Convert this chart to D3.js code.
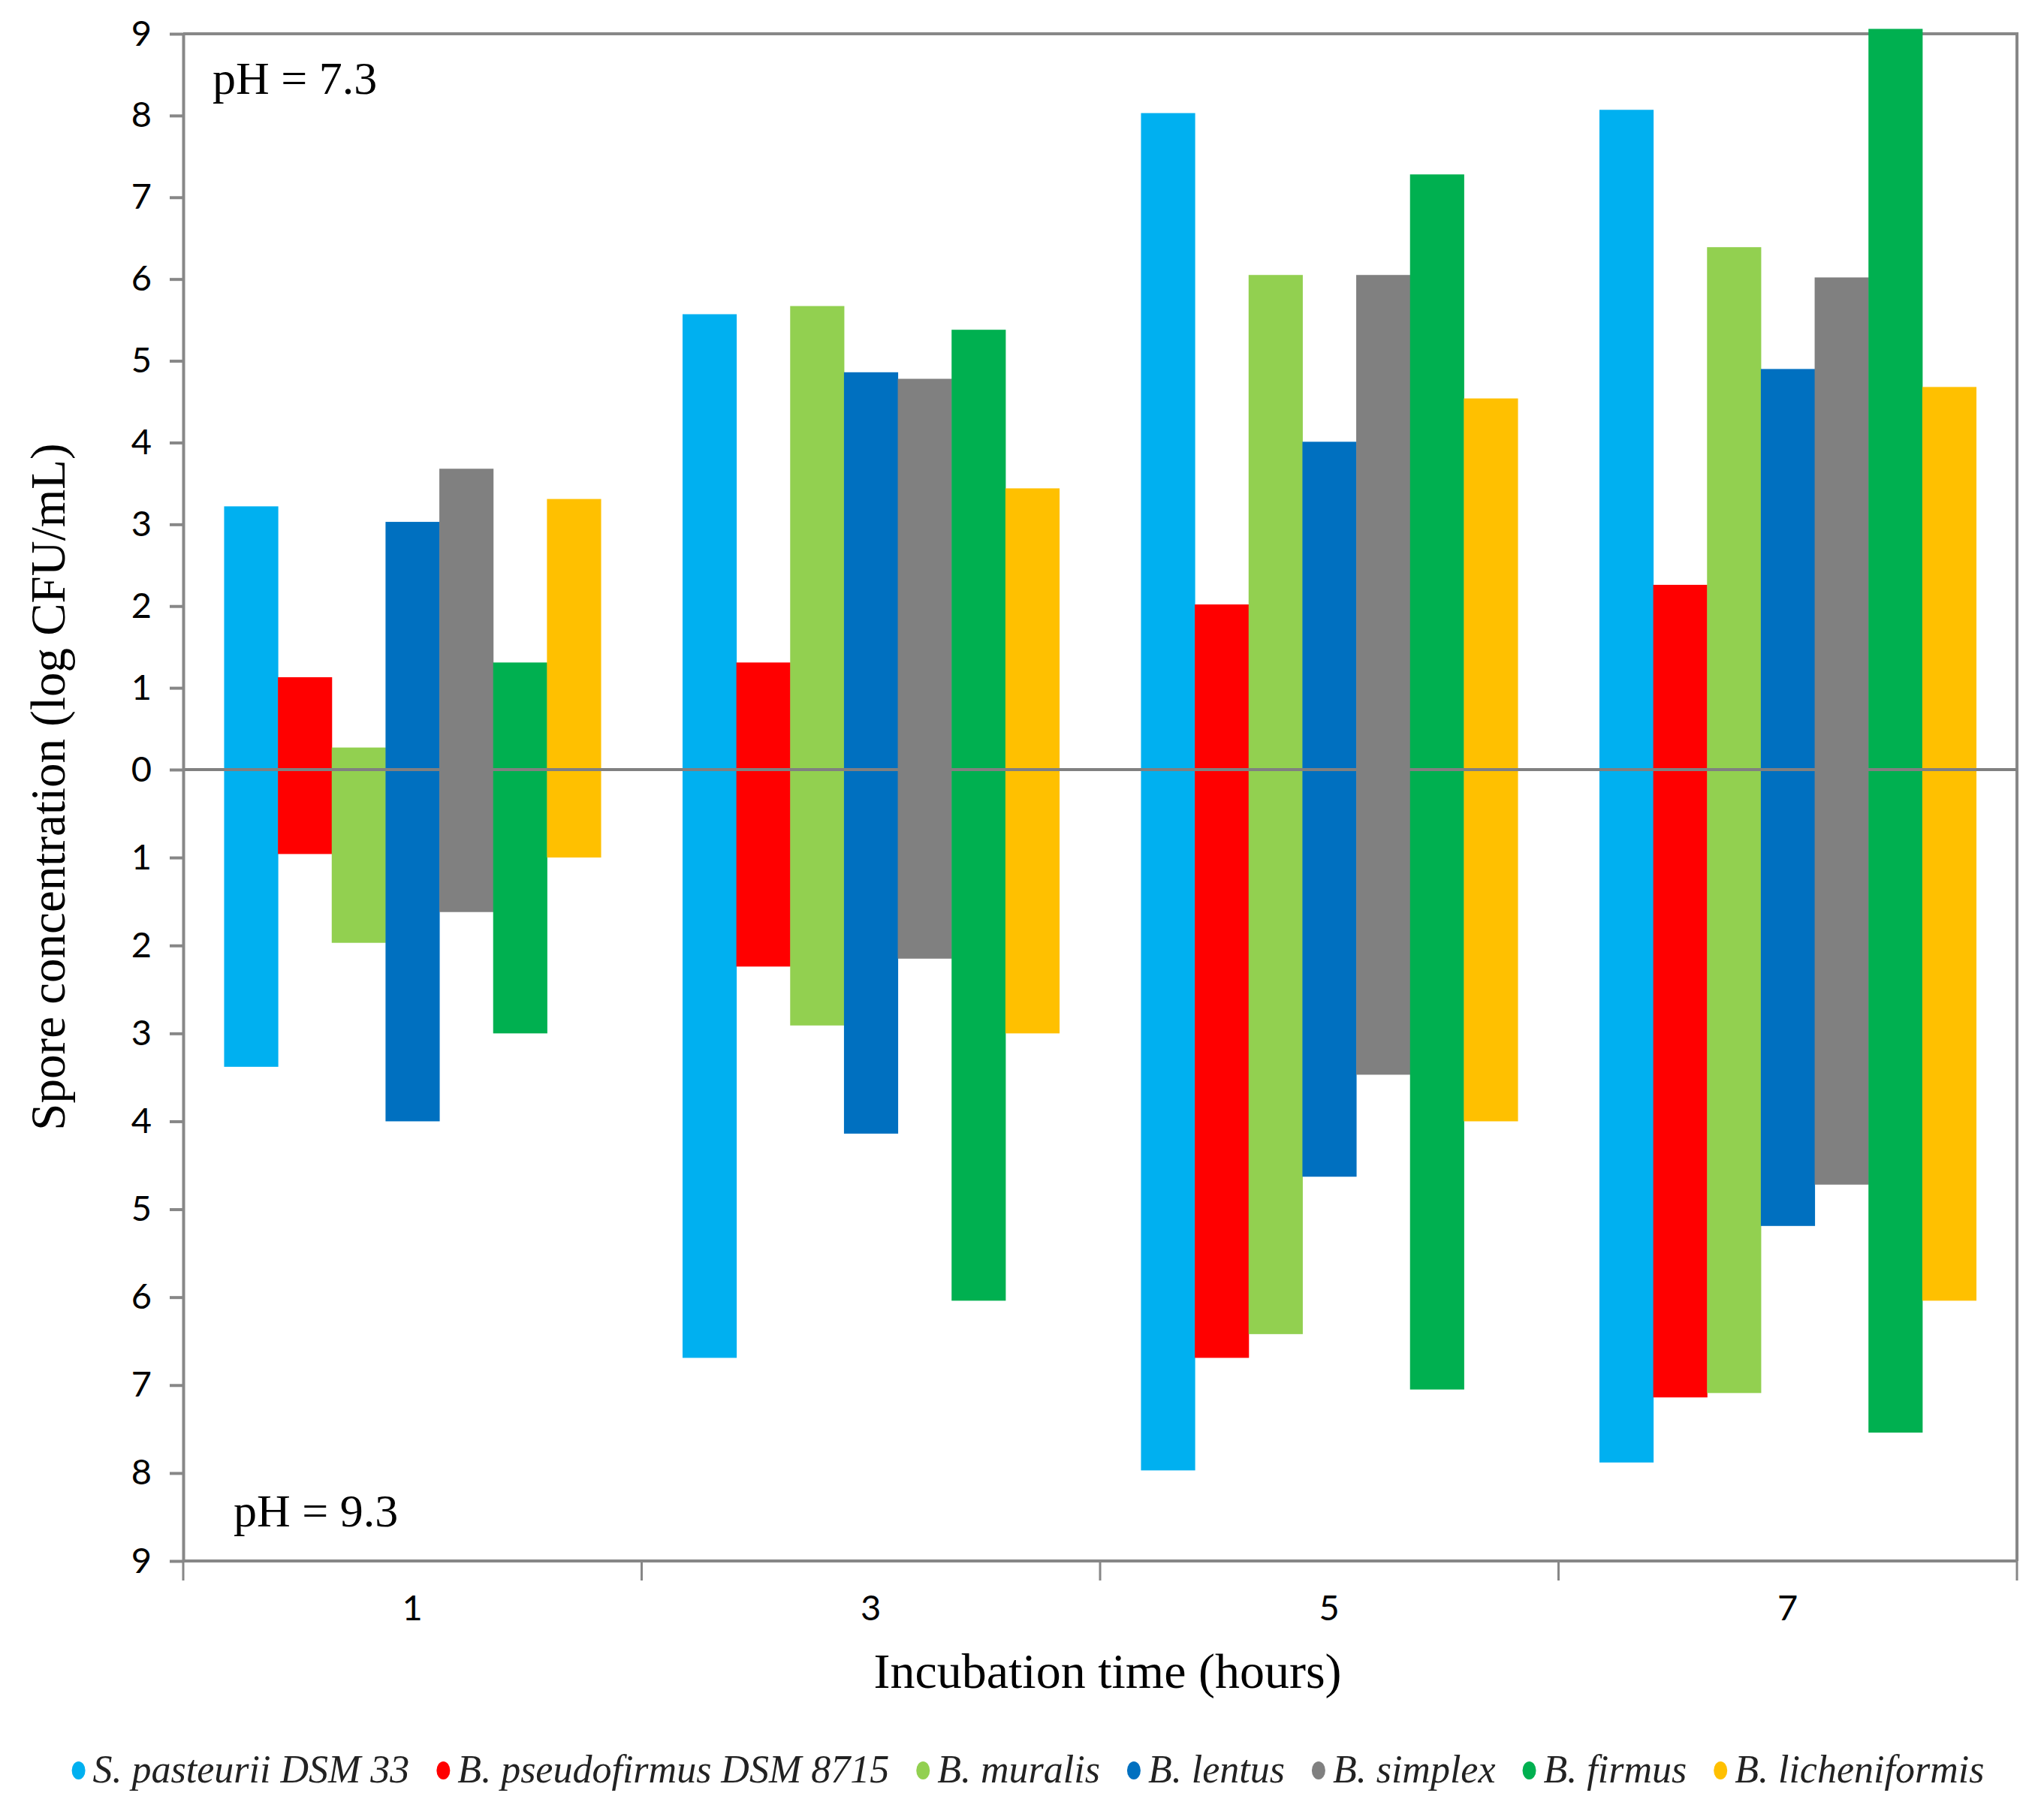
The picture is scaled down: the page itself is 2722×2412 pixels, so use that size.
<!DOCTYPE html>
<html>
  <head>
    <meta charset="utf-8">
    <title>Spore concentration</title>
    <script src="https://d3js.org/d3.v7.min.js"></script>
    <style>
      body { margin: 0; background: #fff; }
      .tick text { font-family: Lato, "Open Sans", sans-serif; }
    </style>
  </head>
  <body>
    <div id="chart"></div>
    <script>

      // incubation times (hours)
      var times = ["1", "3", "5", "7"];
      var strains = ["S. pasteurii DSM 33", "B. pseudofirmus DSM 8715", "B. muralis",
                     "B. lentus", "B. simplex", "B. firmus", "B. licheniformis"];
      var colors = ["#00B0F0", "#FF0000", "#92D050", "#0070C0", "#808080", "#00B050", "#FFC000"];

      // log CFU/mL at pH 7.3 (upper half), one row per strain, one value per time
      var ph73 = [
        [3.22, 5.57, 8.03, 8.07],
        [1.13, 1.31, 2.02, 2.26],
        [0.27, 5.67, 6.05, 6.39],
        [3.03, 4.86, 4.01, 4.90],
        [3.68, 4.78, 6.05, 6.02],
        [1.31, 5.38, 7.28, 9.06],
        [3.31, 3.44, 4.54, 4.68]
      ];
      // log CFU/mL at pH 9.3 (lower half, drawn downward)
      var ph93 = [
        [3.38, 6.69, 7.97, 7.88],
        [0.96, 2.24, 6.69, 7.14],
        [1.97, 2.91, 6.42, 7.09],
        [4.00, 4.14, 4.63, 5.19],
        [1.62, 2.15, 3.47, 4.72],
        [3.00, 6.04, 7.05, 7.54],
        [1.00, 3.00, 4.00, 6.04]
      ];
      var upTicks = [0, 1, 2, 3, 4, 5, 6, 7, 8, 9];
      var downTicks = [1, 2, 3, 4, 5, 6, 7, 8, 9];

      (function () {
        var W = 2722, H = 2412;
        var left = 244, right = 2686, plotTop = 45, zero = 1025, bottom = 2079;
        var axisColor = "#878787";

        var svg = d3.select("#chart").append("svg")
          .attr("width", W).attr("height", H);

        var x = d3.scaleBand().domain(times).range([left, right]).padding(0);
        var xs = d3.scaleBand().domain(strains).range([0, x.bandwidth()])
          .paddingInner(0).paddingOuter(0.76);
        var yUp = d3.scaleLinear().domain([0, 9]).range([zero, plotTop]);
        var yDown = d3.scaleLinear().domain([0, 9]).range([zero, bottom]);

        var rows = [];
        strains.forEach(function (s, i) {
          times.forEach(function (t, j) {
            rows.push({strain: s, time: t, up: ph73[i][j], down: ph93[i][j], color: colors[i]});
          });
        });

        // bars above zero (pH 7.3)
        svg.append("g").selectAll("rect.up").data(rows).enter().append("rect")
          .attr("class", "up")
          .attr("x", function (d) { return x(d.time) + xs(d.strain); })
          .attr("width", xs.bandwidth() + 0.5)
          .attr("y", function (d) { return yUp(d.up); })
          .attr("height", function (d) { return zero - yUp(d.up); })
          .attr("fill", function (d) { return d.color; });

        // bars below zero (pH 9.3)
        svg.append("g").selectAll("rect.down").data(rows).enter().append("rect")
          .attr("class", "down")
          .attr("x", function (d) { return x(d.time) + xs(d.strain); })
          .attr("width", xs.bandwidth() + 0.5)
          .attr("y", zero)
          .attr("height", function (d) { return yDown(d.down) - zero; })
          .attr("fill", function (d) { return d.color; });

        // zero line
        svg.append("line")
          .attr("x1", left).attr("x2", right).attr("y1", zero).attr("y2", zero)
          .attr("stroke", "#808080").attr("stroke-width", 4);

        // frame: top and right
        svg.insert("path", "g")
          .attr("d", "M" + left + "," + plotTop + "H" + right + "V" + bottom)
          .attr("fill", "none").attr("stroke", axisColor).attr("stroke-width", 4);

        function styleAxis(g) {
          g.selectAll("path, line").attr("stroke", axisColor).attr("stroke-width", 4);
          g.selectAll("text").attr("fill", "#000").style("font-size", "47px");
        }

        svg.append("g").attr("transform", "translate(" + left + ",0)")
          .call(d3.axisLeft(yUp).tickValues(upTicks).tickSize(18).tickPadding(24).tickSizeOuter(0))
          .call(styleAxis);
        svg.append("g").attr("transform", "translate(" + left + ",0)")
          .call(d3.axisLeft(yDown).tickValues(downTicks).tickSize(18).tickPadding(24).tickSizeOuter(0))
          .call(styleAxis);

        // x axis with ticks on category boundaries
        var xAxis = svg.append("g").attr("transform", "translate(0," + bottom + ")");
        xAxis.append("line").attr("x1", left).attr("x2", right)
          .attr("stroke", axisColor).attr("stroke-width", 4);
        xAxis.selectAll("line.b").data(times.concat(["end"])).enter().append("line")
          .attr("class", "b")
          .attr("x1", function (d) { return d === "end" ? right : x(d); })
          .attr("x2", function (d) { return d === "end" ? right : x(d); })
          .attr("y1", 0).attr("y2", 26)
          .attr("stroke", axisColor).attr("stroke-width", 3);
        xAxis.selectAll("text").data(times).enter().append("text")
          .attr("x", function (d) { return x(d) + x.bandwidth() / 2; })
          .attr("y", 79)
          .attr("text-anchor", "middle")
          .style("font-family", "Lato, 'Open Sans', sans-serif")
          .style("font-size", "47px")
          .text(function (d) { return d; });

        var serif = "'Liberation Serif', 'DejaVu Serif', serif";

        svg.append("text")
          .attr("x", (left + right) / 2 + 10).attr("y", 2248)
          .attr("text-anchor", "middle")
          .style("font-family", serif).style("font-size", "66px")
          .text("Incubation time (hours)");

        svg.append("text")
          .attr("transform", "translate(86," + 1048 + ") rotate(-90)")
          .attr("text-anchor", "middle")
          .style("font-family", serif).style("font-size", "65px")
          .text("Spore concentration (log CFU/mL)");

        svg.append("text").attr("x", 283).attr("y", 125)
          .style("font-family", serif).style("font-size", "62px").text("pH = 7.3");
        svg.append("text").attr("x", 311).attr("y", 2033)
          .style("font-family", serif).style("font-size", "62px").text("pH = 9.3");

        // legend, laid out in one centred row
        var legend = svg.append("g");
        var cursor = 0, gap = 36;
        strains.forEach(function (s, i) {
          var item = legend.append("g").attr("transform", "translate(" + cursor + ",0)");
          item.append("ellipse").attr("cx", 9).attr("cy", -16).attr("rx", 9).attr("ry", 12)
            .attr("fill", colors[i]);
          var t = item.append("text").attr("x", 28).attr("y", 0)
            .style("font-family", serif).style("font-style", "italic").style("font-size", "52px")
            .attr("fill", "#222")
            .text(s);
          cursor += 28 + t.node().getComputedTextLength() + gap;
        });
        legend.attr("transform", "translate(" + ((W - (cursor - gap)) / 2 + 8) + ",2374)");
      })();

    </script>
  </body>
</html>
